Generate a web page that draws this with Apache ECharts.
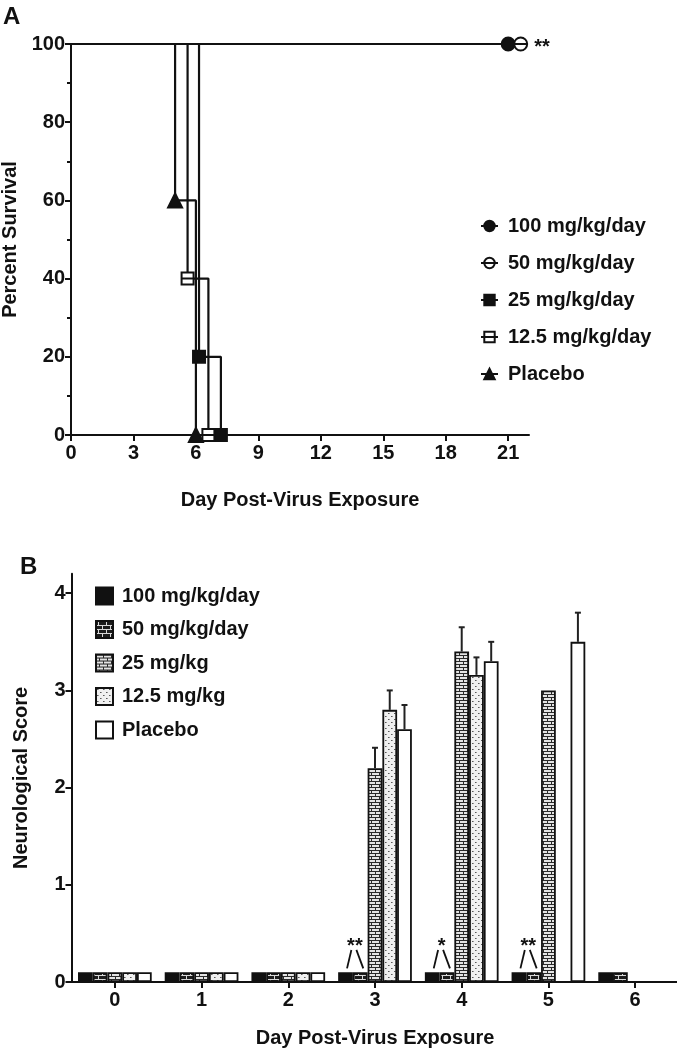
<!DOCTYPE html>
<html>
<head>
<meta charset="utf-8">
<script src="https://cdn.jsdelivr.net/npm/echarts@6/dist/echarts.min.js"></script>
<style>
html,body{margin:0;padding:0;background:#fff;}
#a{position:absolute;left:0;top:0;width:677px;height:535px;}
#b{position:absolute;left:0;top:535px;width:677px;height:515px;}
</style>
</head>
<body>
<div id="a"></div>
<div id="b"></div>
<script>
// ---------- Panel A data (Kaplan-Meier survival) ----------
const survDays100 = [0, 21];
const survPct100 = [100, 100];
const survDays50 = [0, 21.6];
const survPct50 = [100, 100];
const survDays25 = [0, 6.15, 7.2];
const survPct25 = [100, 20, 0];
const survDays12 = [0, 5.6, 6.6];
const survPct12 = [100, 40, 0];
const survDaysPlacebo = [0, 5, 6];
const survPctPlacebo = [100, 60, 0];
const survXTicks = [0, 3, 6, 9, 12, 15, 18, 21];
const survNames = ['100 mg/kg/day', '50 mg/kg/day', '25 mg/kg/day', '12.5 mg/kg/day', 'Placebo'];
const survSig = '**';

// ---------- Panel B data (neurological score) ----------
const days = ['0', '1', '2', '3', '4', '5', '6'];
const score100 = [0.1, 0.1, 0.1, 0.1, 0.1, 0.1, 0.1];
const score50 = [0.1, 0.1, 0.1, 0.1, 0.1, 0.1, 0.1];
const score25 = [0.1, 0.1, 0.1, 2.2, 3.4, 3.0, null];
const score12 = [0.1, 0.1, 0.1, 2.8, 3.16, null, null];
const scorePlacebo = [0.1, 0.1, 0.1, 2.6, 3.3, 3.5, null];
const err25 = [0, 0, 0, 0.21, 0.25, 0, 0];
const err12 = [0, 0, 0, 0.2, 0.18, 0, 0];
const errPlacebo = [0, 0, 0, 0.25, 0.2, 0.3, 0];
const scoreNames = ['100 mg/kg/day', '50 mg/kg/day', '25 mg/kg', '12.5 mg/kg', 'Placebo'];
const scoreYTicks = [0, 1, 2, 3, 4];
const sigDays = [3, 4, 5];
const sigMarks = ['**', '*', '**'];

const FONT = 'Liberation Sans, Arial, sans-serif';
const INK = '#111';

function zip(xs, ys) { return xs.map((x, i) => [x, ys[i]]); }

// ---------------- Chart A ----------------
const chartA = echarts.init(document.getElementById('a'), null, {renderer: 'canvas'});
const circleBar = 'path://M0,10 A10,10 0 1,1 20,10 A10,10 0 1,1 0,10 Z M0,10 L20,10';
const squareBar = 'path://M0,0 L20,0 L20,20 L0,20 Z M0,10 L20,10';
const symA = [
  {symbol: 'circle', size: 13, fill: INK},
  {symbol: circleBar, size: 13, fill: '#fff'},
  {symbol: 'rect', size: 12, fill: INK},
  {symbol: squareBar, size: 12, fill: '#fff'},
  {symbol: 'triangle', size: 14, fill: INK}
];
const survData = [
  zip(survDays100, survPct100),
  zip(survDays50, survPct50),
  zip(survDays25, survPct25),
  zip(survDays12, survPct12),
  zip(survDaysPlacebo, survPctPlacebo)
];
const seriesA = survData.map((d, k) => ({
  name: survNames[k],
  type: 'line',
  step: 'end',
  data: d.map((p, i) => {
    const item = {value: p};
    if (i === 0) item.symbol = 'none';
    if (k === 1 && i === d.length - 1) {
      item.label = {show: true, position: 'right', distance: 6, formatter: survSig,
        color: INK, fontFamily: FONT, fontWeight: 'bold', fontSize: 20, offset: [0, 3]};
    }
    return item;
  }),
  symbol: symA[k].symbol,
  symbolSize: symA[k].size,
  showAllSymbol: true,
  lineStyle: {color: INK, width: 2.2},
  itemStyle: {color: symA[k].fill, borderColor: INK, borderWidth: 2},
  emphasis: {disabled: true},
  z: 2 + k
}));

chartA.setOption({
  animation: false,
  title: {text: 'A', left: -2, top: 0, textStyle: {fontFamily: FONT, fontWeight: 'bold', fontSize: 24, color: INK}},
  grid: {left: 71, right: 148, top: 44, bottom: 100, containLabel: false, outerBoundsMode: 'none'},
  legend: {
    orient: 'vertical', left: 475, top: 211, itemWidth: 17, itemHeight: 13, itemGap: 17,
    data: survNames,
    textStyle: {fontFamily: FONT, fontWeight: 'bold', fontSize: 20, color: INK, lineHeight: 20, padding: [0, 0, 0, 5]},
    selectedMode: false
  },
  xAxis: {
    type: 'value', min: 0, max: 22,
    name: 'Day Post-Virus Exposure', nameLocation: 'middle', nameGap: 55,
    nameTextStyle: {fontFamily: FONT, fontWeight: 'bold', fontSize: 20, color: INK},
    axisLine: {lineStyle: {color: INK, width: 2}},
    axisTick: {show: true, length: 6, lineStyle: {color: INK, width: 2}, customValues: survXTicks},
    axisLabel: {customValues: survXTicks, margin: 8, fontFamily: FONT, fontWeight: 'bold', fontSize: 20, color: INK},
    splitLine: {show: false}
  },
  yAxis: {
    type: 'value', min: 0, max: 100, interval: 20,
    name: 'Percent Survival', nameLocation: 'middle', nameGap: 44,
    nameTextStyle: {fontFamily: FONT, fontWeight: 'bold', fontSize: 20, color: INK},
    axisLine: {show: true, lineStyle: {color: INK, width: 2}},
    axisTick: {show: true, length: 6, lineStyle: {color: INK, width: 2}},
    minorTick: {show: true, splitNumber: 2, length: 4, lineStyle: {color: INK, width: 2}},
    axisLabel: {margin: 6, fontFamily: FONT, fontWeight: 'bold', fontSize: 20, color: INK},
    splitLine: {show: false}
  },
  series: seriesA
});

// ---------------- Chart B ----------------
function pattern(w, h, draw) {
  const c = document.createElement('canvas');
  c.width = w; c.height = h;
  draw(c.getContext('2d'));
  return {image: c, repeat: 'repeat'};
}
const pat50 = pattern(8, 8, g => {
  g.fillStyle = '#1c1c1c'; g.fillRect(0, 0, 8, 8);
  g.fillStyle = '#d8d8d8';
  g.fillRect(0, 0, 8, 1); g.fillRect(0, 4, 8, 1);
  g.fillRect(2, 1, 1, 3); g.fillRect(6, 5, 1, 3);
});
const pat25 = pattern(8, 6, g => {
  g.fillStyle = '#2a2a2a'; g.fillRect(0, 0, 8, 6);
  g.fillStyle = '#e4e4e4';
  g.fillRect(0, 1, 7, 2);
  g.fillRect(0, 4, 3, 2); g.fillRect(4, 4, 4, 2);
});
const pat12 = pattern(6, 6, g => {
  g.fillStyle = '#f0f0f0'; g.fillRect(0, 0, 6, 6);
  g.fillStyle = '#5a5a5a';
  g.fillRect(1, 1, 1, 1); g.fillRect(4, 4, 1, 1);
  g.fillStyle = '#9a9a9a';
  g.fillRect(2, 1, 1, 1); g.fillRect(5, 4, 1, 1);
});
const fillsB = [INK, pat50, pat25, pat12, '#fff'];
const scoreData = [score100, score50, score25, score12, scorePlacebo];
const CAT_GAP = 0.15;
const NB = scoreData.length;

const seriesB = scoreData.map((d, k) => ({
  name: scoreNames[k],
  type: 'bar',
  data: d.map(v => (v == null ? '-' : v)),
  barGap: '0%',
  barCategoryGap: (CAT_GAP * 100) + '%',
  itemStyle: {color: fillsB[k], borderColor: INK, borderWidth: 1.8},
  emphasis: {disabled: true},
  z: 2
}));

const errRows = [];
[[score25, err25, 2], [score12, err12, 3], [scorePlacebo, errPlacebo, 4]].forEach(([v, e, k]) => {
  v.forEach((val, i) => { if (val != null && e[i] > 0) errRows.push([i, k, val, e[i]]); });
});

seriesB.push({
  type: 'custom',
  data: errRows,
  encode: {x: 0, y: 2},
  z: 5,
  silent: true,
  renderItem(params, api) {
    const i = api.value(0), k = api.value(1), v = api.value(2), e = api.value(3);
    const bandW = api.size([1, 0])[0];
    const groupW = bandW * (1 - CAT_GAP);
    const bw = groupW / NB;
    const c = api.coord([i, v]);
    const t = api.coord([i, v + e]);
    const x = c[0] - groupW / 2 + bw * (k + 0.5);
    const st = {stroke: '#222', lineWidth: 2};
    return {type: 'group', children: [
      {type: 'line', shape: {x1: x, y1: c[1], x2: x, y2: t[1]}, style: st},
      {type: 'line', shape: {x1: x - 3, y1: t[1], x2: x + 3, y2: t[1]}, style: st}
    ]};
  }
});

seriesB.push({
  type: 'custom',
  data: sigDays.map((d, j) => [d, 0, sigMarks[j]]),
  encode: {x: 0, y: 1},
  z: 6,
  silent: true,
  renderItem(params, api) {
    const i = api.value(0);
    const mark = sigMarks[params.dataIndex];
    const bandW = api.size([1, 0])[0];
    const groupW = bandW * (1 - CAT_GAP);
    const bw = groupW / NB;
    const base = api.coord([i, 0]);
    const left = base[0] - groupW / 2;
    const xa = left + bw * 0.5 + 1.5;   // over 100 mg bar
    const xb = left + bw * 1.5 + 3;     // over 50 mg bar
    const xm = left + bw + 1;
    const yTop = api.coord([i, 0.33])[1];
    const yBot = api.coord([i, 0.14])[1];
    const st = {stroke: INK, lineWidth: 1.8};
    return {type: 'group', children: [
      {type: 'line', shape: {x1: xm - 2.5, y1: yTop, x2: xa, y2: yBot}, style: st},
      {type: 'line', shape: {x1: xm + 2.5, y1: yTop, x2: xb, y2: yBot}, style: st},
      {type: 'text', style: {x: xm + 1, y: yTop + 7, text: mark, align: 'center', verticalAlign: 'bottom',
        font: 'bold 20px ' + FONT, fill: INK}}
    ]};
  }
});

const chartB = echarts.init(document.getElementById('b'), null, {renderer: 'canvas'});
chartB.setOption({
  animation: false,
  title: {text: 'B', left: 15, top: 15, textStyle: {fontFamily: FONT, fontWeight: 'bold', fontSize: 24, color: INK}},
  grid: {left: 71.5, right: -1.5, top: 38.8, bottom: 68, containLabel: false, outerBoundsMode: 'none'},
  legend: {
    orient: 'vertical', left: 90, top: 46, itemWidth: 17, itemHeight: 17, itemGap: 13.5,
    data: scoreNames, icon: 'rect',
    textStyle: {fontFamily: FONT, fontWeight: 'bold', fontSize: 20, color: INK, lineHeight: 20, padding: [0, 0, 0, 4]},
    selectedMode: false
  },
  xAxis: {
    type: 'category', data: days,
    name: 'Day Post-Virus Exposure', nameLocation: 'middle', nameGap: 46,
    nameTextStyle: {fontFamily: FONT, fontWeight: 'bold', fontSize: 20, color: INK},
    axisLine: {lineStyle: {color: INK, width: 2}},
    axisTick: {show: true, alignWithLabel: true, length: 6, lineStyle: {color: INK, width: 2}},
    axisLabel: {margin: 8, fontFamily: FONT, fontWeight: 'bold', fontSize: 20, color: INK},
    splitLine: {show: false}
  },
  yAxis: {
    type: 'value', min: 0, max: 4.2,
    name: 'Neurological Score', nameLocation: 'middle', nameGap: 40,
    nameTextStyle: {fontFamily: FONT, fontWeight: 'bold', fontSize: 20, color: INK},
    axisLine: {show: true, lineStyle: {color: INK, width: 2}},
    axisTick: {show: true, length: 6, lineStyle: {color: INK, width: 2}, customValues: scoreYTicks},
    axisLabel: {customValues: scoreYTicks, margin: 6, fontFamily: FONT, fontWeight: 'bold', fontSize: 20, color: INK},
    splitLine: {show: false}
  },
  series: seriesB
});
</script>
</body>
</html>
